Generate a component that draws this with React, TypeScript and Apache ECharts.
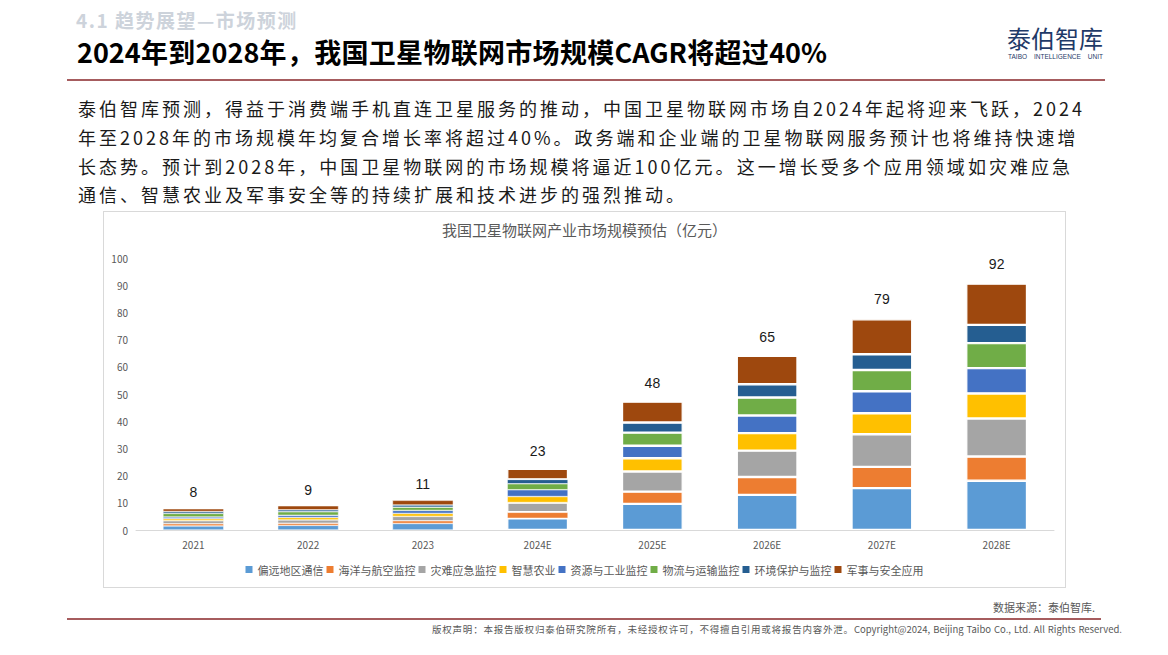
import React, { useEffect, useRef } from "react";
import * as echarts from "echarts";

const categories = ["2021", "2022", "2023", "2024E", "2025E", "2026E", "2027E", "2028E"];
const seriesNames = [
  "偏远地区通信",
  "海洋与航空监控",
  "灾难应急监控",
  "智慧农业",
  "资源与工业监控",
  "物流与运输监控",
  "环境保护与监控",
  "军事与安全应用",
];
const remoteComm = [1.5, 1.7, 2.4, 4.3, 9.6, 12.9, 15.4, 18.1];
const oceanAir = [0.8, 0.8, 1.0, 2.2, 4.5, 6.6, 7.8, 8.9];
const disaster = [1.1, 1.2, 1.6, 3.6, 7.4, 9.7, 12.0, 14.0];
const smartAgri = [0.7, 0.9, 1.1, 2.2, 4.9, 6.4, 7.7, 9.2];
const resource = [0.7, 0.8, 1.1, 2.5, 4.6, 6.5, 8.1, 9.3];
const logistics = [1.3, 1.3, 1.2, 2.2, 4.8, 6.6, 7.8, 9.2];
const environment = [0.7, 0.7, 0.8, 1.6, 3.7, 4.9, 5.8, 6.7];
const military = [1.0, 1.5, 1.7, 3.9, 7.7, 10.4, 12.9, 15.2];
const totals = [8, 9, 11, 23, 48, 65, 79, 92];
const colors = ["#5B9BD5", "#ED7D31", "#A5A5A5", "#FFC000", "#4472C4", "#70AD47", "#255E91", "#9E480E"];

const paragraphLines = [
  "泰伯智库预测，得益于消费端手机直连卫星服务的推动，中国卫星物联网市场自2024年起将迎来飞跃，2024",
  "年至2028年的市场规模年均复合增长率将超过40%。政务端和企业端的卫星物联网服务预计也将维持快速增",
  "长态势。预计到2028年，中国卫星物联网的市场规模将逼近100亿元。这一增长受多个应用领域如灾难应急",
  "通信、智慧农业及军事安全等的持续扩展和技术进步的强烈推动。",
];
const paragraphWidths = [1007, 996, 995, 0];

const FONT = '"Noto Sans CJK SC", "Noto Sans", sans-serif';

export default function App() {
  const ref = useRef<HTMLDivElement>(null);

  useEffect(() => {
    if (!ref.current) return;
    const chart = echarts.init(ref.current, null, { renderer: "svg" });
    const values = [remoteComm, oceanAir, disaster, smartAgri, resource, logistics, environment, military];
    const stacked = values.map((data, i) => ({
      name: seriesNames[i],
      type: "bar",
      stack: "total",
      data: data.map((v) => ({ value: v, itemStyle: { borderWidth: v < 3 ? 0.5 : 1.2 } })),
      barCategoryGap: "47%",
      itemStyle: { color: colors[i], borderColor: "#ffffff" },
    }));
    chart.setOption({
      animation: false,
      textStyle: { fontFamily: FONT },
      title: {
        text: "我国卫星物联网产业市场规模预估（亿元）",
        left: "center",
        top: 5,
        textStyle: { fontSize: 15, fontWeight: "normal", color: "#595959", fontFamily: FONT },
      },
      legend: {
        data: seriesNames,
        top: 347,
        left: "center",
        icon: "rect",
        itemWidth: 7,
        itemHeight: 7,
        itemGap: 3,
        textStyle: { fontSize: 11, color: "#595959", fontFamily: FONT },
      },
      grid: { left: 32, right: 11, top: 46, bottom: 57 },
      xAxis: {
        type: "category",
        data: categories,
        axisLine: { lineStyle: { color: "#D9D9D9" } },
        axisTick: { show: false },
        axisLabel: { fontSize: 10, color: "#595959", margin: 9 },
      },
      yAxis: {
        type: "value",
        min: 0,
        max: 100,
        interval: 10,
        axisLine: { show: false },
        axisTick: { show: false },
        splitLine: { show: false },
        axisLabel: { fontSize: 10, color: "#595959", margin: 8 },
      },
      series: [
        ...stacked,
        {
          name: "合计",
          type: "bar",
          data: totals,
          barGap: "-100%",
          barCategoryGap: "47%",
          silent: true,
          z: 1,
          itemStyle: { color: "rgba(0,0,0,0)" },
          label: {
            show: true,
            position: "top",
            distance: 9,
            fontSize: 14,
            color: "#1a1a1a",
            fontFamily: "Liberation Sans, Arial, sans-serif",
          },
        },
      ],
    });
    return () => chart.dispose();
  }, []);

  return (
    <div
      style={{
        position: "fixed",
        left: 0,
        top: 0,
        width: 1168,
        height: 655,
        background: "#ffffff",
        fontFamily: FONT,
        overflow: "hidden",
      }}
    >
      <div
        style={{
          position: "absolute",
          left: 76,
          top: 7,
          fontSize: 19,
          lineHeight: "26px",
          letterSpacing: "1.5px",
          fontWeight: 700,
          color: "#CDD3DB",
          whiteSpace: "nowrap",
        }}
      >
        4.1 趋势展望—市场预测
      </div>
      <div
        style={{
          position: "absolute",
          left: 77,
          top: 34,
          width: 750,
          fontSize: 27,
          lineHeight: "36px",
          fontWeight: 700,
          color: "#000000",
          whiteSpace: "nowrap",
          textAlign: "justify",
          textAlignLast: "justify",
        }}
      >
        2024年到2028年，我国卫星物联网市场规模CAGR将超过40%
      </div>
      <div
        style={{
          position: "absolute",
          left: 1007,
          top: 24,
          fontSize: 24,
          lineHeight: "28px",
          color: "#1F3A68",
          whiteSpace: "nowrap",
        }}
      >
        泰伯智库
      </div>
      <div
        style={{
          position: "absolute",
          left: 1008,
          top: 53,
          width: 95,
          fontSize: 6.5,
          lineHeight: "8px",
          color: "#1F3A68",
          whiteSpace: "nowrap",
          textAlignLast: "justify",
          fontFamily: '"Liberation Sans", Arial, sans-serif',
        }}
      >
        TAIBO INTELLIGENCE UNIT
      </div>
      <div style={{ position: "absolute", left: 67, top: 79, width: 1038, height: 2, background: "#A65C5E" }} />
      {paragraphLines.map((line, i) => (
        <div
          key={i}
          style={{
            position: "absolute",
            left: 78,
            top: 94 + i * 28.8,
            width: paragraphWidths[i] || undefined,
            fontSize: 18,
            lineHeight: "29px",
            letterSpacing: "3px",
            color: "#1a1a1a",
            whiteSpace: "nowrap",
            textAlign: "justify",
            textAlignLast: paragraphWidths[i] ? "justify" : "auto",
          }}
        >
          {line}
        </div>
      ))}
      <div
        style={{
          position: "absolute",
          left: 103,
          top: 211,
          width: 963,
          height: 377,
          border: "1px solid #D9D9D9",
          boxSizing: "border-box",
        }}
      >
        <div ref={ref} style={{ width: 961, height: 375 }} />
      </div>
      <div
        style={{
          position: "absolute",
          left: 993,
          top: 599,
          fontSize: 11,
          lineHeight: "16px",
          color: "#595959",
          whiteSpace: "nowrap",
        }}
      >
        数据来源：泰伯智库.
      </div>
      <div style={{ position: "absolute", left: 67, top: 618, width: 1034, height: 1.5, background: "#A65C5E" }} />
      <div
        style={{
          position: "absolute",
          left: 432,
          top: 622,
          width: 690,
          fontSize: 9.5,
          lineHeight: "14px",
          color: "#595959",
          whiteSpace: "nowrap",
          textAlign: "justify",
          textAlignLast: "justify",
        }}
      >
        版权声明：本报告版权归泰伯研究院所有，未经授权许可，不得擅自引用或将报告内容外泄。Copyright@2024, Beijing Taibo Co., Ltd. All Rights Reserved.
      </div>
    </div>
  );
}
